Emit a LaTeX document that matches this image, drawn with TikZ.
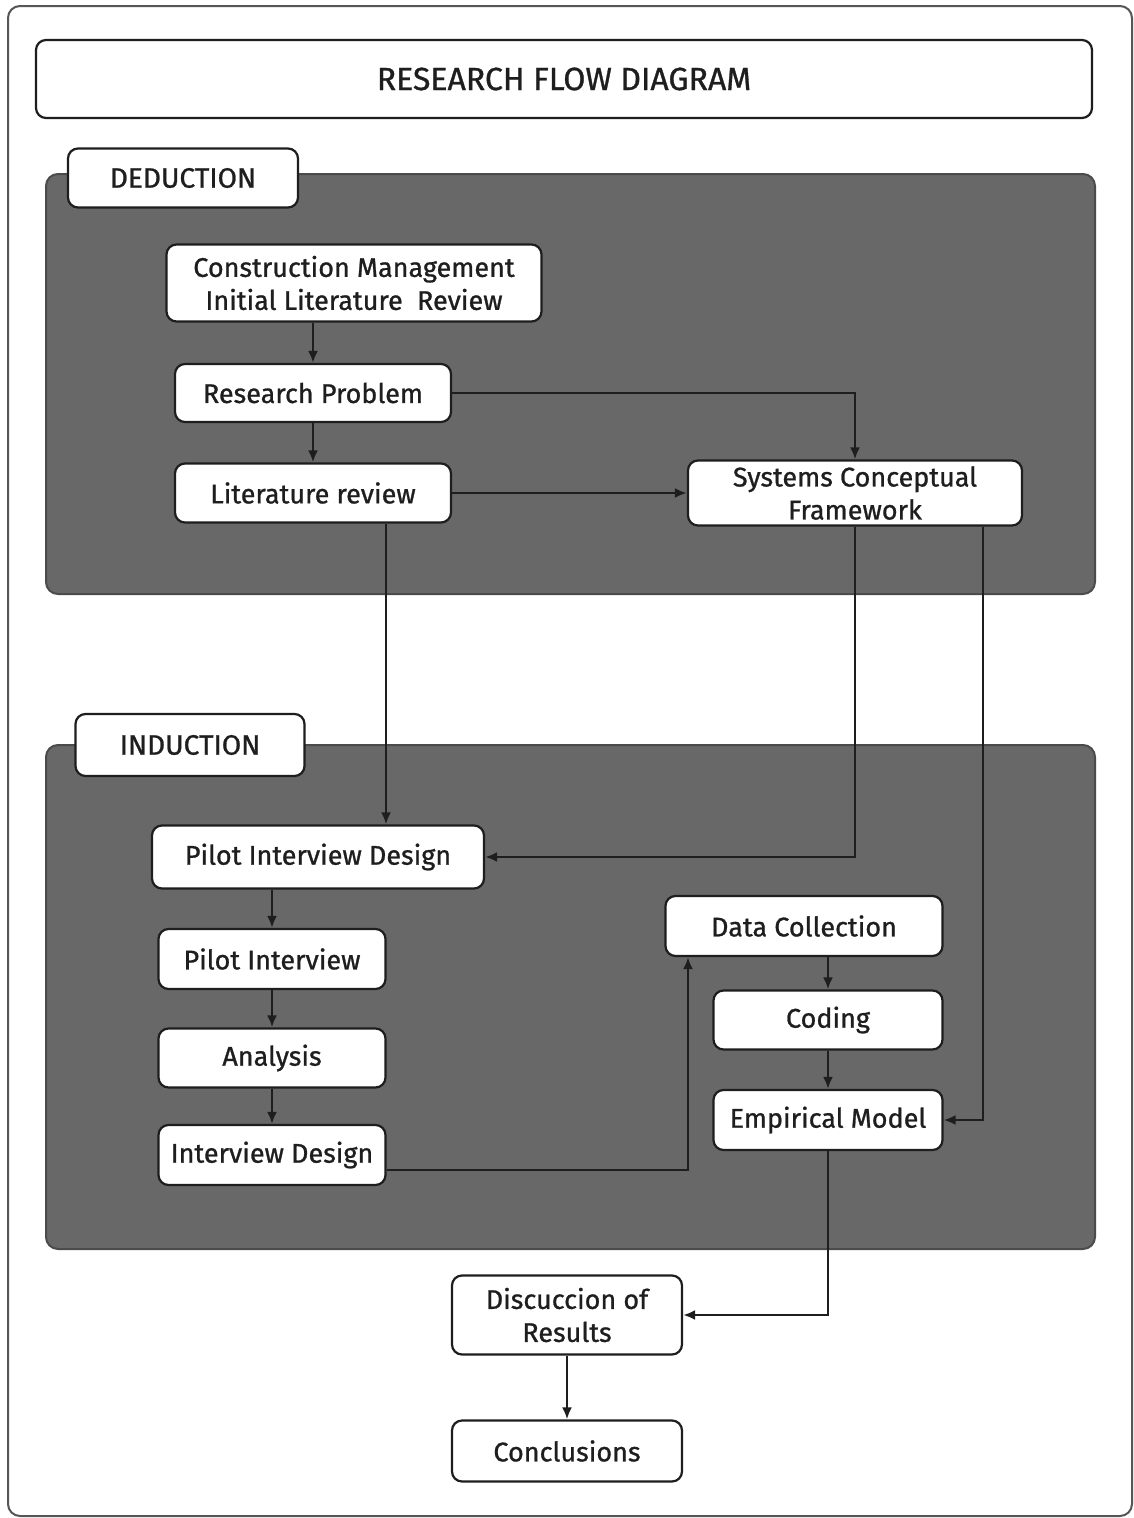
\documentclass[tikz,border=0pt]{standalone}
\usepackage{fontspec}
\setmainfont{Fira Sans}[UprightFeatures={FakeBold=0.9}]
\usetikzlibrary{arrows.meta}
\definecolor{panelgray}{HTML}{686868}
\definecolor{ink}{HTML}{1E1E1E}
\tikzset{
  box/.style={draw=ink, line width=2.2pt, fill=white, rounded corners=10pt,
    inner sep=0pt, align=center, text=ink, font=\fontsize{27}{33}\selectfont},
  panel/.style={draw=ink!80, line width=2pt, fill=panelgray, rounded corners=12pt},
  tab/.style={box, font=\fontsize{28}{32}\selectfont},
  arr/.style={draw=ink, line width=2.4pt, -{Latex[length=12pt,width=10pt]}}
}
\begin{document}
\begin{tikzpicture}[x=1pt,y=-1pt]
\useasboundingbox (0,0) rectangle (1134,1518);
\fill[white] (0,0) rectangle (1134,1518);

% outer frame and title
\draw[draw=ink!75, line width=2pt, rounded corners=12pt] (8,6) rectangle (1132,1516);
\node[box, minimum width=1056pt, minimum height=78pt,
      font=\fontsize{32}{36}\selectfont] (title) at (564,79) {RESEARCH FLOW DIAGRAM};

% deduction panel
\path[panel] (46,174) rectangle (1095,594);
\node[tab, minimum width=230pt, minimum height=59pt] (dedtab) at (183,178) {DEDUCTION};

% induction panel
\path[panel] (46,745) rectangle (1095,1249);
\node[tab, minimum width=229pt, minimum height=62pt] (indtab) at (190,745) {INDUCTION};

% deduction boxes
\node[box, minimum width=375pt, minimum height=77pt] (cm) at (354,283)
  {Construction Management\\Initial Literature\ \ Review};
\node[box, minimum width=276pt, minimum height=58pt] (rp) at (313,393) {Research Problem};
\node[box, minimum width=276pt, minimum height=59pt] (lr) at (313,493) {Literature review};
\node[box, minimum width=334pt, minimum height=65pt] (scf) at (855,493)
  {Systems Conceptual\\Framework};

% induction boxes
\node[box, minimum width=332pt, minimum height=63pt] (pid) at (318,857) {Pilot Interview Design};
\node[box, minimum width=227pt, minimum height=60pt] (pi) at (272,959) {Pilot Interview};
\node[box, minimum width=227pt, minimum height=59pt] (an) at (272,1058) {Analysis};
\node[box, minimum width=227pt, minimum height=60pt] (id) at (272,1155) {Interview Design};
\node[box, minimum width=277pt, minimum height=60pt] (dc) at (804,926) {Data Collection};
\node[box, minimum width=229pt, minimum height=59pt] (cod) at (828,1020) {Coding};
\node[box, minimum width=229pt, minimum height=60pt] (em) at (828,1120) {Empirical Model};

% closing boxes
\node[box, minimum width=230pt, minimum height=79pt] (disc) at (567,1315)
  {Discuccion of\\Results};
\node[box, minimum width=230pt, minimum height=61pt] (conc) at (567,1451) {Conclusions};

% deduction connectors
\draw[arr] (cm.south -| rp.north) -- (rp.north);
\draw[arr] (rp.south) -- (lr.north);
\draw[arr] (rp.east) -| (scf.north);
\draw[arr] (lr.east) -- (scf.west);

% connectors into induction
\draw[arr] ([xshift=73pt]lr.south) -- ([xshift=73pt]lr.south |- pid.north);
\draw[arr] (scf.south) |- (pid.east);
\draw[arr] ([xshift=128pt]scf.south) |- (em.east);

% induction connectors
\draw[arr] (pid.south -| pi.north) -- (pi.north);
\draw[arr] (pi.south) -- (an.north);
\draw[arr] (an.south) -- (id.north);
\draw[arr] ([yshift=-15pt]id.east) -| ([xshift=-116pt]dc.south);
\draw[arr] (dc.south -| cod.north) -- (cod.north);
\draw[arr] (cod.south) -- (em.north);

% towards results
\draw[arr] (em.south) |- (disc.east);
\draw[arr] (disc.south) -- (conc.north);
\end{tikzpicture}
\end{document}
